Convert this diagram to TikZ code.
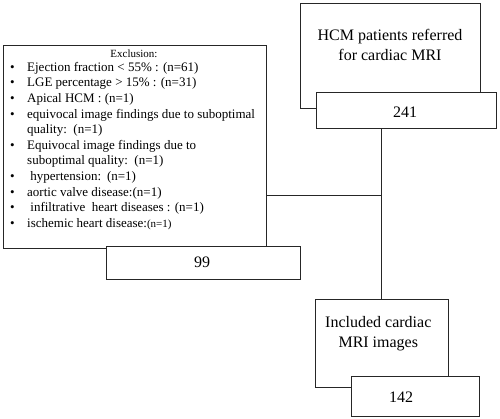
\documentclass[tikz,border=0pt]{standalone}
\usepackage{fontspec}
\setmainfont{Liberation Serif}
\begin{document}
\begin{tikzpicture}[x=1pt,y=-1pt,
  box/.style={draw=black!85,line width=0.9pt,rectangle,inner sep=0pt,fill=white},
  big/.style={font=\fontsize{16}{20}\selectfont,align=center,inner sep=0pt},
  conn/.style={draw=black!85,line width=0.9pt}]
\useasboundingbox (0,0) rectangle (500,419);
% top
\node[box,minimum width=180.7pt,minimum height=105pt] (hcm) at (390.3,55.5) {};
\node[big] (hcmtext) at (390,45) {HCM patients referred\\for cardiac MRI};
\node[box,minimum width=180.7pt,minimum height=36.3pt] (n241) at (406.3,110.8) {};
\node[big] (t241) at (405,112) {241};
% exclusion
\node[box,minimum width=263.7pt,minimum height=203pt] (excl) at (134.8,146.5) {};
\node[inner sep=0pt,font=\fontsize{11}{13}\selectfont] (exhead) at (134,54) {Exclusion:};
\node[inner sep=0pt,anchor=north west,align=left,font=\fontsize{13}{15.6}\selectfont] (exlist) at (10,62) {%
\makebox[17pt][l]{•}Ejection fraction < 55\% : (n=61)\\
\makebox[17pt][l]{•}LGE percentage > 15\% : (n=31)\\
\makebox[17pt][l]{•}Apical HCM : (n=1)\\
\makebox[17pt][l]{•}equivocal image findings due to suboptimal\\
\hspace*{17pt}quality:\hspace{0.5em}(n=1)\\
\makebox[17pt][l]{•}Equivocal image findings due to\\
\hspace*{17pt}suboptimal quality:\hspace{0.5em}(n=1)\\
\makebox[17pt][l]{•} hypertension:\hspace{0.45em}(n=1)\\
\makebox[17pt][l]{•}aortic valve disease:(n=1)\\
\makebox[17pt][l]{•} infiltrative\hspace{0.5em}heart diseases : (n=1)\\
\makebox[17pt][l]{•}ischemic heart disease:{\fontsize{11}{13}\selectfont(n=1)}};
\node[box,minimum width=194pt,minimum height=33pt] (n99) at (203,262.5) {};
\node[big] (t99) at (202,262.5) {99};
% included
\node[box,minimum width=132.7pt,minimum height=87.3pt] (incl) at (381.7,343.3) {};
\node[big] (incltext) at (378.3,334) {Included cardiac\\MRI images};
\node[box,minimum width=127.6pt,minimum height=39.3pt] (n142) at (415.5,396.3) {};
\node[big] (t142) at (401,397) {142};
% connectors
\coordinate (branch) at (incl.north |- 0,195);
\draw[conn] (n241.south -| incl.north) -- (incl.north);
\draw[conn] (branch) -- (branch -| excl.east);
\end{tikzpicture}
\end{document}
